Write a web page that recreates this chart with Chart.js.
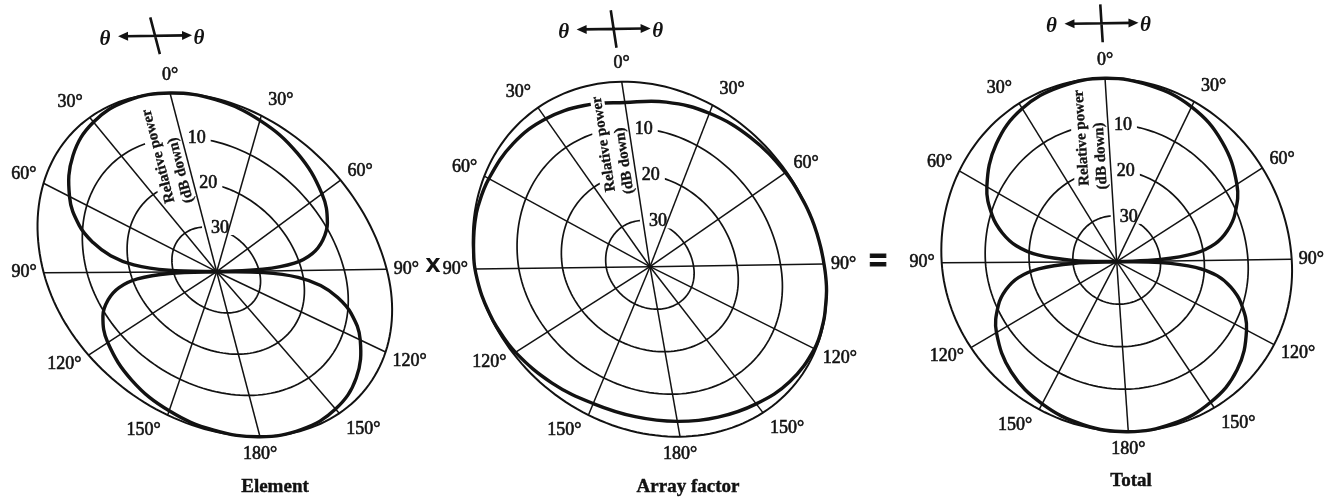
<!DOCTYPE html>
<html>
<head>
<meta charset="utf-8">
<script src="https://cdn.jsdelivr.net/npm/chart.js@4/dist/chart.umd.min.js"></script>
<style>
  html, body { margin: 0; padding: 0; background: #fff; }
  canvas { display: block; }
</style>
</head>
<body>
<canvas id="patternChart" width="1332" height="502"></canvas>
<script>
// Angles (degrees, clockwise from the 0° axis) where the patterns are read
const patternAngles = [0, 15, 30, 45, 60, 70, 76, 81, 85, 88,
  90, 92, 95, 99, 104, 110, 120, 135, 150, 165,
  180, 195, 210, 225, 240, 250, 256, 261, 265, 268,
  270, 272, 275, 279, 284, 290, 300, 315, 330, 345];

// Relative power in dB down from the maximum
const elementDb = [0, 0.3, 1.2, 3.0, 6.0, 9.2, 12.4, 16.2, 21.2, 29,
  40, 29, 21.2, 16.2, 12.4, 9.2, 6.0, 3.0, 1.2, 0.3,
  0, 0.3, 1.2, 3.0, 6.0, 9.2, 12.4, 16.2, 21.2, 29,
  40, 29, 21.2, 16.2, 12.4, 9.2, 6.0, 3.0, 1.2, 0.3];

const arrayFactorDb = [4.5, 3.3, 2.0, 1.0, 0.3, 0.1, 0, 0, 0, 0,
  0, 0, 0, 0, 0.1, 0.1, 0.3, 1.2, 2.4, 3.2,
  3.6, 3.6, 3.1, 1.8, 0.6, 0.2, 0.1, 0, 0, 0,
  0, 0, 0.1, 0.2, 0.3, 0.5, 1.1, 1.9, 2.8, 3.8];

const totalDb = [0, 0.4, 1.3, 3.5, 7.0, 10.5, 13.5, 17, 22, 30,
  40, 30, 22, 17, 13.5, 10.5, 7.0, 3.5, 1.5, 0.4,
  0, 0.4, 1.5, 3.5, 7.0, 10.5, 13.5, 17, 22, 30,
  40, 30, 22, 17, 13.5, 10.5, 7.0, 3.5, 1.3, 0.4];

// Axis ticks and text
const angleLabels = ["0°", "30°", "60°", "90°", "120°", "150°", "180°", "150°", "120°", "90°", "60°", "30°"];
const ringDb = [0, 10, 20, 30];
const ringLabels = ["", "10", "20", "30"];
const dbSpan = 40;
const axisTitle = ["Relative power", "(dB down)"];
const panelTitles = ["Element", "Array factor", "Total"];
const operators = ["X", "="];

// Each polar frame is drawn slightly foreshortened: the four half-axes
// (90° right, 90° left, 0° up, 180° down) get their own plane vectors.
const panels = [
  { cx: 216.7, cy: 271.7, right: [170, -2.5], left: [-173, 1], up: [-46.7, -178.7], down: [43.3, 165],
    headerT: 1.32, titleAt: [275, 487] },
  { cx: 650, cy: 266.7, right: [174, -2.6], left: [-175, 2.3], up: [-28.3, -185], down: [30, 170],
    headerT: 1.285, titleAt: [688, 487] },
  { cx: 1116.7, cy: 261.7, right: [175, -2.4], left: [-175, 1], up: [-11.7, -183.4], down: [11.6, 170],
    headerT: 1.30, titleAt: [1131, 481] }
];
const operatorAt = [[433, 267], [878, 262]];

const ink = "#121212";
const serif = "'Liberation Serif', 'DejaVu Serif', serif";

function planePoint(panel, angleDeg, r) {
  const a = angleDeg * Math.PI / 180;
  const u = r * Math.sin(a);
  const v = r * Math.cos(a);
  const hu = u >= 0 ? panel.right : panel.left;
  const hv = v >= 0 ? panel.up : panel.down;
  const au = Math.abs(u), av = Math.abs(v);
  return { x: panel.cx + au * hu[0] + av * hv[0], y: panel.cy + au * hu[1] + av * hv[1] };
}

function patternPoints(panel, dbValues) {
  // start and close the loop on the 90° axis
  const n = patternAngles.length;
  const start = patternAngles.indexOf(90);
  const pts = [];
  for (let k = 0; k <= n; k++) {
    const i = (start + k) % n;
    pts.push(planePoint(panel, patternAngles[i], (dbSpan - dbValues[i]) / dbSpan));
  }
  return pts;
}

function toPx(chart, p) {
  return { x: chart.scales.x.getPixelForValue(p.x), y: chart.scales.y.getPixelForValue(p.y) };
}

// printed text is a little heavier than the plain face
function inkText(ctx, text, x, y, weight) {
  ctx.fillText(text, x, y);
  ctx.lineWidth = weight;
  ctx.strokeStyle = ink;
  ctx.strokeText(text, x, y);
}

function axisFrame(chart, panel) {
  const c = toPx(chart, planePoint(panel, 0, 0));
  const top = toPx(chart, planePoint(panel, 0, 1));
  return { c, len: Math.hypot(top.x - c.x, top.y - c.y), ang: Math.atan2(top.y - c.y, top.x - c.x) };
}

const titleFont = "bold 15px " + serif;
const titleLines = [
  { t: 0.685, off: -27 },
  { t: 0.58, off: -9 }
];

function drawAxisTitle(chart, ctx, panel, clearBehind) {
  const f = axisFrame(chart, panel);
  ctx.save();
  ctx.translate(f.c.x, f.c.y);
  ctx.rotate(f.ang);
  ctx.font = titleFont;
  ctx.textAlign = "center";
  ctx.textBaseline = "middle";
  axisTitle.forEach((text, i) => {
    const w = ctx.measureText(text).width;
    const x = titleLines[i].t * f.len;
    if (clearBehind) {
      ctx.fillStyle = "#fff";
      ctx.fillRect(x - w / 2 - 1, titleLines[i].off - 7, w + 2, 14);
    }
    ctx.fillStyle = ink;
    inkText(ctx, text, x, titleLines[i].off, 0.3);
  });
  ctx.restore();
}

function clearTitleBand(chart, ctx, panel) {
  const f = axisFrame(chart, panel);
  ctx.save();
  ctx.font = titleFont;
  let a0 = Infinity, a1 = -Infinity;
  axisTitle.forEach((text, i) => {
    const w = ctx.measureText(text).width;
    const x = titleLines[i].t * f.len;
    a0 = Math.min(a0, x - w / 2 - 2);
    a1 = Math.max(a1, x + w / 2 + 2);
  });
  ctx.translate(f.c.x, f.c.y);
  ctx.rotate(f.ang);
  ctx.fillStyle = "#fff";
  ctx.fillRect(a0, -37, a1 - a0, 36);
  ctx.restore();
}

function drawFrame(chart, ctx, panel, index) {
  ctx.strokeStyle = ink;
  ctx.fillStyle = ink;

  // rings at 0, 10, 20, 30 dB down
  ringDb.forEach((db) => {
    const r = (dbSpan - db) / dbSpan;
    ctx.beginPath();
    for (let a = 0; a <= 360; a += 2) {
      const p = toPx(chart, planePoint(panel, a, r));
      if (a === 0) ctx.moveTo(p.x, p.y); else ctx.lineTo(p.x, p.y);
    }
    ctx.closePath();
    ctx.lineWidth = db === 0 ? 2 : 1.7;
    ctx.stroke();
  });

  // gaps in the rings for the scale text
  clearTitleBand(chart, ctx, panel);
  ctx.font = "18px " + serif;
  ringDb.forEach((db, i) => {
    if (!ringLabels[i]) return;
    const p = toPx(chart, planePoint(panel, 0, (dbSpan - db) / dbSpan));
    const w = ctx.measureText(ringLabels[i]).width;
    ctx.fillStyle = "#fff";
    ctx.fillRect(p.x - 3, p.y - 8, w + 14, 16);
  });

  // radial lines every 30°
  ctx.strokeStyle = ink;
  ctx.lineWidth = 1.5;
  const c = toPx(chart, planePoint(panel, 0, 0));
  for (let a = 0; a < 360; a += 30) {
    const p = toPx(chart, planePoint(panel, a, 1));
    ctx.beginPath();
    ctx.moveTo(c.x, c.y);
    ctx.lineTo(p.x, p.y);
    ctx.stroke();
  }

  // ring values
  ctx.fillStyle = ink;
  ctx.textAlign = "left";
  ctx.textBaseline = "middle";
  ringDb.forEach((db, i) => {
    if (!ringLabels[i]) return;
    const p = toPx(chart, planePoint(panel, 0, (dbSpan - db) / dbSpan));
    inkText(ctx, ringLabels[i], p.x + 6, p.y + 1, 0.6);
  });

  drawAxisTitle(chart, ctx, panel, false);

  // angle labels round the rim
  ctx.font = "18px " + serif;
  ctx.textAlign = "center";
  ctx.fillStyle = ink;
  angleLabels.forEach((label, k) => {
    const a = k * 30;
    const p = toPx(chart, planePoint(panel, a, 1));
    const s = Math.sin(a * Math.PI / 180);
    const co = Math.cos(a * Math.PI / 180);
    const w = ctx.measureText(label).width;
    const dx = Math.abs(s) > 0.3 ? Math.sign(s) * (w / 2 + 7) : 0;
    inkText(ctx, label, p.x + dx, p.y - co * 18, 0.6);
  });

  drawHeader(chart, ctx, panel);

  // caption
  ctx.font = "bold 19px " + serif;
  ctx.textAlign = "center";
  ctx.fillStyle = ink;
  inkText(ctx, panelTitles[index], panel.titleAt[0], panel.titleAt[1], 0.4);
}

// θ ← + → θ sign above each frame, aligned with the frame axes
function drawHeader(chart, ctx, panel) {
  const c = toPx(chart, planePoint(panel, 0, 0));
  const h = toPx(chart, planePoint(panel, 0, panel.headerT));
  const r = toPx(chart, planePoint(panel, 90, 1));
  let ex = r.x - c.x, ey = r.y - c.y;
  const el = Math.hypot(ex, ey);
  ex /= el; ey /= el;
  let nx = h.x - c.x, ny = h.y - c.y;
  const nl = Math.hypot(nx, ny);
  nx /= nl; ny /= nl;
  const px = -ey, py = ex;

  ctx.save();
  ctx.strokeStyle = ink;
  ctx.fillStyle = ink;
  ctx.lineWidth = 2.6;
  ctx.beginPath();
  ctx.moveTo(h.x - 30 * ex, h.y - 30 * ey);
  ctx.lineTo(h.x + 30 * ex, h.y + 30 * ey);
  ctx.moveTo(h.x - 19 * nx, h.y - 19 * ny);
  ctx.lineTo(h.x + 19 * nx, h.y + 19 * ny);
  ctx.stroke();
  [1, -1].forEach((sgn) => {
    const tx = h.x + sgn * 37 * ex, ty = h.y + sgn * 37 * ey;
    const bx = h.x + sgn * 27 * ex, by = h.y + sgn * 27 * ey;
    ctx.beginPath();
    ctx.moveTo(tx, ty);
    ctx.lineTo(bx + 4.5 * px, by + 4.5 * py);
    ctx.lineTo(bx - 4.5 * px, by - 4.5 * py);
    ctx.closePath();
    ctx.fill();
  });
  ctx.font = "italic bold 21px " + serif;
  ctx.textAlign = "center";
  ctx.textBaseline = "middle";
  ctx.fillText("θ", h.x - 50 * ex, h.y - 50 * ey + 3);
  ctx.fillText("θ", h.x + 44 * ex, h.y + 44 * ey + 3);
  ctx.restore();
}

const polarFrames = {
  id: "polarFrames",
  beforeDatasetsDraw(chart) {
    const ctx = chart.ctx;
    ctx.save();
    panels.forEach((panel, i) => drawFrame(chart, ctx, panel, i));
    ctx.fillStyle = ink;
    ctx.textAlign = "center";
    ctx.textBaseline = "middle";
    ctx.font = "bold 20px 'DejaVu Sans', sans-serif";
    ctx.fillText(operators[0], operatorAt[0][0], operatorAt[0][1]);
    ctx.font = "bold 31px 'Liberation Sans', sans-serif";
    inkText(ctx, operators[1], operatorAt[1][0], operatorAt[1][1], 1);
    ctx.restore();
  },
  afterDatasetsDraw(chart) {
    // keep the scale title readable where a pattern runs through it
    panels.forEach((panel) => drawAxisTitle(chart, chart.ctx, panel, true));
  }
};

const patternSets = [elementDb, arrayFactorDb, totalDb];

new Chart(document.getElementById("patternChart"), {
  type: "scatter",
  data: {
    datasets: patternSets.map((db, i) => ({
      label: panelTitles[i],
      data: patternPoints(panels[i], db),
      showLine: true,
      borderColor: ink,
      borderWidth: 3.4,
      borderJoinStyle: "round",
      tension: 0.4,
      pointRadius: 0,
      fill: false,
      clip: false
    }))
  },
  options: {
    responsive: false,
    animation: false,
    devicePixelRatio: 1,
    events: [],
    layout: { padding: 0 },
    scales: {
      x: { type: "linear", min: 0, max: 1332, display: false },
      y: { type: "linear", min: 0, max: 502, reverse: true, display: false }
    },
    plugins: {
      legend: { display: false },
      tooltip: { enabled: false }
    }
  },
  plugins: [polarFrames]
});
</script>
</body>
</html>
